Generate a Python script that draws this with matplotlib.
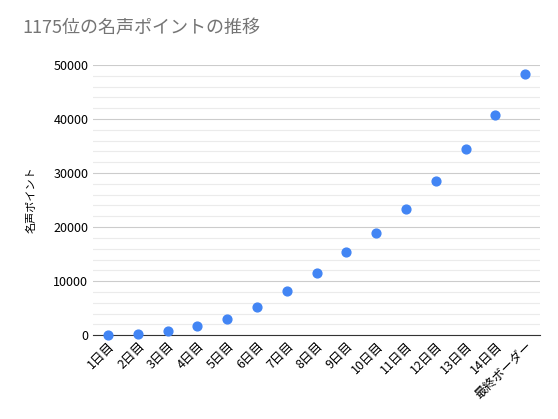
import matplotlib
matplotlib.use("Agg")
import matplotlib.pyplot as plt
from matplotlib.ticker import MultipleLocator

plt.rcParams['font.family'] = ['Noto Sans CJK JP', 'DejaVu Sans']

labels = ["1日目", "2日目", "3日目", "4日目", "5日目", "6日目", "7日目", "8日目",
          "9日目", "10日目", "11日目", "12日目", "13日目", "14日目", "最終ボーダー"]
points = [0, 200, 800, 1700, 3000, 5200, 8200, 11500, 15400, 18900,
          23300, 28500, 34400, 40700, 48300]

fig = plt.figure(figsize=(5.58, 4.19), dpi=100)
ax = fig.add_axes([0.167, 0.2, 0.801, 0.645])

x = list(range(len(labels)))
ax.scatter(x, points, s=40, color="#4285f4", zorder=3, clip_on=False)

ax.set_ylim(0, 50000)
ax.set_xlim(-0.5, len(labels) - 0.5)
ax.yaxis.set_major_locator(MultipleLocator(10000))
ax.yaxis.set_minor_locator(MultipleLocator(2000))
ax.grid(axis="y", which="major", color="#cccccc", linewidth=0.8)
ax.grid(axis="y", which="minor", color="#ebebeb", linewidth=0.8)
ax.set_axisbelow(True)
for s in ["top", "right", "left"]:
    ax.spines[s].set_visible(False)
ax.spines["bottom"].set_color("#333333")
ax.tick_params(axis="y", which="both", length=0, labelsize=9)
ax.tick_params(axis="x", length=0, labelsize=9, pad=3)
ax.set_xticks(x)
ax.set_xticklabels(labels, rotation=45, ha="right", rotation_mode="anchor")
ax.set_ylabel("名声ポイント", fontsize=8, labelpad=12)

fig.text(0.04, 0.92, "1175位の名声ポイントの推移", fontsize=13, color="#757575")

fig.savefig("out.png", dpi=100)
